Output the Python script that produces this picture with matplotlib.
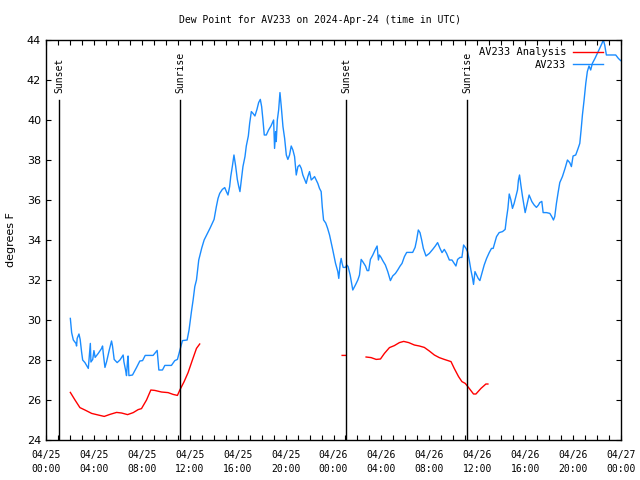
import matplotlib
matplotlib.use("Agg")
import matplotlib.pyplot as plt
import matplotlib.dates as mdates
import numpy as np
import pandas as pd

start = pd.Timestamp("2024-04-25 00:00")

# observed dew point (hours after 04/25 00:00 UTC, deg F)
obs_hours = [
    2.03, 2.14, 2.28, 2.5, 2.55, 2.6, 2.75, 2.85, 2.97, 3.06, 3.25, 3.53, 3.6, 3.7, 3.75, 3.9,
    4.0, 4.1, 4.36, 4.64, 4.72, 4.78, 4.92, 5.06, 5.28, 5.47, 5.55, 5.69, 5.94, 6.17, 6.44, 6.5,
    6.64, 6.72, 6.8, 6.85, 6.92, 7.22, 7.56, 7.83, 8.06, 8.28, 8.94, 9.28, 9.42, 9.72, 9.92,
    10.47, 10.75, 10.97, 11.17, 11.39, 11.78, 11.94, 12.14, 12.28, 12.42, 12.56, 12.75, 13.0,
    13.2, 13.45, 13.7, 14.03, 14.22, 14.36, 14.5, 14.72, 14.92, 15.06, 15.19, 15.33, 15.42,
    15.56, 15.69, 15.83, 15.97, 16.08, 16.19, 16.31, 16.44, 16.61, 16.72, 16.89, 17.0, 17.14,
    17.28, 17.44, 17.61, 17.75, 17.89, 18.0, 18.11, 18.22, 18.39, 18.58, 18.78, 19.0, 19.08,
    19.17, 19.22, 19.31, 19.42, 19.53, 19.64, 19.78, 19.92, 20.06, 20.19, 20.33, 20.47, 20.61,
    20.75, 20.89, 21.03, 21.17, 21.31, 21.44, 21.72, 21.86, 22.0, 22.14, 22.28, 22.42, 22.56,
    22.69, 22.83, 22.97, 23.06, 23.17, 23.35, 23.5, 23.67, 23.94, 24.17, 24.36, 24.44, 24.56,
    24.64, 24.72, 24.81, 25.0, 25.11, 25.22, 25.39, 25.61, 25.83, 26.03, 26.17, 26.31, 26.44,
    26.67, 26.81, 26.94, 27.08, 27.28, 27.47, 27.64, 27.75, 27.83, 27.97, 28.11, 28.33, 28.53,
    28.75, 28.94, 29.17, 29.36, 29.56, 29.72, 29.92, 30.11, 30.61, 30.81, 30.94, 31.08, 31.22,
    31.36, 31.5, 31.72, 32.0, 32.28, 32.5, 32.69, 32.89, 33.06, 33.25, 33.44, 33.67, 33.89,
    34.08, 34.22, 34.36, 34.56, 34.72, 34.86, 35.06, 35.19, 35.33, 35.47, 35.61, 35.69, 35.81,
    35.94, 36.08, 36.22, 36.39, 36.58, 36.78, 37.0, 37.19, 37.33, 37.47, 37.61, 37.83, 38.11,
    38.33, 38.44, 38.56, 38.67, 38.81, 38.94, 39.08, 39.22, 39.36, 39.44, 39.53, 39.64, 39.78,
    40.0, 40.14, 40.33, 40.56, 40.75, 40.94, 41.11, 41.22, 41.39, 41.5, 41.78, 42.06, 42.22,
    42.36, 42.47, 42.61, 42.75, 42.89, 43.11, 43.33, 43.53, 43.72, 43.86, 44.0, 44.22, 44.42,
    44.56, 44.67, 44.78, 44.92, 45.06, 45.19, 45.33, 45.47, 45.61, 45.83, 46.03, 46.22, 46.39,
    46.53, 46.64, 46.78, 47.14, 47.56, 47.78, 47.97,
]
obs_dewpt = [
    30.08, 29.37, 29.0, 28.83, 28.7, 29.08, 29.3, 29.03, 28.4, 28.0, 27.87, 27.58, 28.08, 28.83,
    27.9, 28.03, 28.47, 28.13, 28.33, 28.58, 28.7, 28.33, 27.63, 27.92, 28.5, 28.95, 28.7, 28.03,
    27.87, 28.0, 28.25, 27.92, 27.5, 27.22, 27.92, 28.2, 27.22, 27.25, 27.63, 27.95, 27.97, 28.23,
    28.23, 28.48, 27.5, 27.5, 27.73, 27.73, 27.97, 28.03, 28.47, 28.97, 29.0, 29.5, 30.42, 31.0,
    31.67, 32.0, 33.0, 33.6, 34.0, 34.3, 34.6, 35.03, 35.67, 36.08, 36.33, 36.53, 36.62, 36.42,
    36.25, 36.67, 37.17, 37.7, 38.25, 37.7, 37.03, 36.7, 36.42, 37.0, 37.67, 38.17, 38.7, 39.2,
    39.83, 40.42, 40.33, 40.2, 40.53, 40.87, 41.03, 40.67, 40.0, 39.25, 39.25, 39.5, 39.7, 40.0,
    38.58, 39.42, 38.92, 40.0, 40.5, 41.37, 40.67, 39.67, 39.08, 38.25, 38.03, 38.25, 38.7, 38.5,
    38.17, 37.25, 37.67, 37.75, 37.58, 37.25, 36.83, 37.17, 37.42, 37.0, 37.08, 37.17, 37.0,
    36.83, 36.58, 36.42, 35.67, 35.0, 34.85, 34.6, 34.25, 33.5, 32.83, 32.42, 32.08, 32.83,
    33.08, 32.83, 32.63, 32.63, 32.75, 32.67, 32.25, 31.5, 31.75, 32.0, 32.25, 33.03, 32.92,
    32.7, 32.47, 32.47, 33.03, 33.25, 33.5, 33.7, 33.0, 33.25, 33.13, 32.97, 32.75, 32.42,
    31.97, 32.2, 32.33, 32.5, 32.7, 32.83, 33.17, 33.38, 33.38, 33.63, 34.0, 34.5, 34.37, 34.0,
    33.58, 33.2, 33.33, 33.53, 33.7, 33.87, 33.58, 33.37, 33.53, 33.33, 33.0, 33.0, 32.83, 32.7,
    33.03, 33.13, 33.13, 33.75, 33.58, 33.42, 33.0, 32.5, 32.08, 31.78, 32.42, 32.25, 32.08,
    31.97, 32.33, 32.75, 33.08, 33.37, 33.58, 33.58, 33.87, 34.17, 34.37, 34.42, 34.53, 35.08,
    35.58, 36.3, 36.0, 35.58, 35.83, 36.17, 36.5, 37.0, 37.25, 36.75, 36.17, 35.37, 35.75, 36.25,
    35.92, 35.75, 35.63, 35.75, 35.87, 35.93, 35.37, 35.37, 35.33, 35.17, 35.0, 35.17, 35.83,
    36.37, 36.87, 37.17, 37.58, 38.0, 37.87, 37.67, 38.2, 38.25, 38.58, 38.83, 39.5, 40.25, 41.0,
    41.83, 42.42, 42.7, 42.5, 42.83, 43.08, 43.33, 43.58, 43.8, 44.0, 43.75, 43.25, 43.25, 43.25,
    43.08, 42.97,
]

# analysis dew point (NaN = gap)
ana_hours = [
    2.03, 2.42, 2.83, 3.25, 3.81, 4.36, 4.86, 5.33, 5.89, 6.31, 6.81, 7.28, 7.69, 7.97, 8.39,
    8.75, 9.08, 9.64, 10.19, 10.61, 10.97, 11.17, 11.53, 11.86, 12.22, 12.56, 12.83, 13.0,
    24.72, 25.0, 25.5,
    26.72, 27.14, 27.56, 27.92, 28.25, 28.67, 29.08, 29.5, 29.86, 30.28, 30.75, 31.17, 31.58,
    32.0, 32.42, 32.83, 33.25, 33.81, 34.08, 34.44, 34.72, 35.0, 35.33, 35.69, 35.89, 36.31,
    36.72, 36.89,
]
ana_dewpt = [
    26.38, 26.0, 25.62, 25.5, 25.33, 25.25, 25.18, 25.28, 25.38, 25.35, 25.27, 25.37, 25.52,
    25.57, 26.0, 26.5, 26.48, 26.4, 26.37, 26.28, 26.23, 26.5, 26.92, 27.37, 28.0, 28.58, 28.8,
    np.nan,
    28.23, 28.23, np.nan,
    28.15, 28.12, 28.03, 28.05, 28.33, 28.62, 28.72, 28.87, 28.93, 28.87, 28.75, 28.7, 28.63,
    28.45, 28.25, 28.12, 28.03, 27.92, 27.58, 27.17, 26.92, 26.83, 26.58, 26.3, 26.3, 26.58,
    26.8, 26.8,
]

sun_hours = [1.1, 11.2, 25.08, 35.15]
sun_labels = ["Sunset", "Sunrise", "Sunset", "Sunrise"]

mono = "DejaVu Sans Mono"

def to_time(hours):
    return start + pd.to_timedelta(hours, unit="h")

fig = plt.figure(figsize=(6.4, 4.8), dpi=100)
ax = fig.add_axes([0.0719, 0.0833, 0.8984, 0.8334])

ax.plot(to_time(ana_hours), ana_dewpt, color="red", lw=1.0, label="AV233 Analysis")
ax.plot(to_time(obs_hours), obs_dewpt, color="#1a8cff", lw=1.0, label="AV233")

for h, lab in zip(sun_hours, sun_labels):
    t = to_time(h)
    ax.plot([t, t], [24, 41], color="black", lw=1.0)
    ax.text(t, 41.35, lab, rotation=90, ha="center", va="bottom", fontsize=7, family=mono)

ax.set_xlim(to_time(0), to_time(48))
ax.set_ylim(24, 44)
ax.set_yticks(np.arange(24, 45, 2))
ax.xaxis.set_major_locator(mdates.HourLocator(byhour=[0, 4, 8, 12, 16, 20]))
ax.xaxis.set_minor_locator(mdates.HourLocator())
ax.xaxis.set_major_formatter(mdates.DateFormatter("%m/%d\n%H:%M"))
ax.tick_params(which="both", direction="in", top=True, right=True, length=3.5, width=0.8)
ax.tick_params(axis="x", labelsize=7, pad=7)
ax.tick_params(axis="y", labelsize=8)
for lab in ax.get_xticklabels():
    lab.set_family(mono)
    lab.set_linespacing(1.5)
for s in ax.spines.values():
    s.set_linewidth(1.0)

ax.set_ylabel("degrees F", fontsize=8, labelpad=8)
fig.suptitle("Dew Point for AV233 on 2024-Apr-24 (time in UTC)", y=0.968, fontsize=7, family=mono)

ax.legend(loc="upper right", bbox_to_anchor=(0.985, 1.005), frameon=False, markerfirst=False,
          handlelength=2.9, handletextpad=0.6, labelspacing=0.25, prop={"family": mono, "size": 7.5})

fig.savefig("out.png", dpi=100)
